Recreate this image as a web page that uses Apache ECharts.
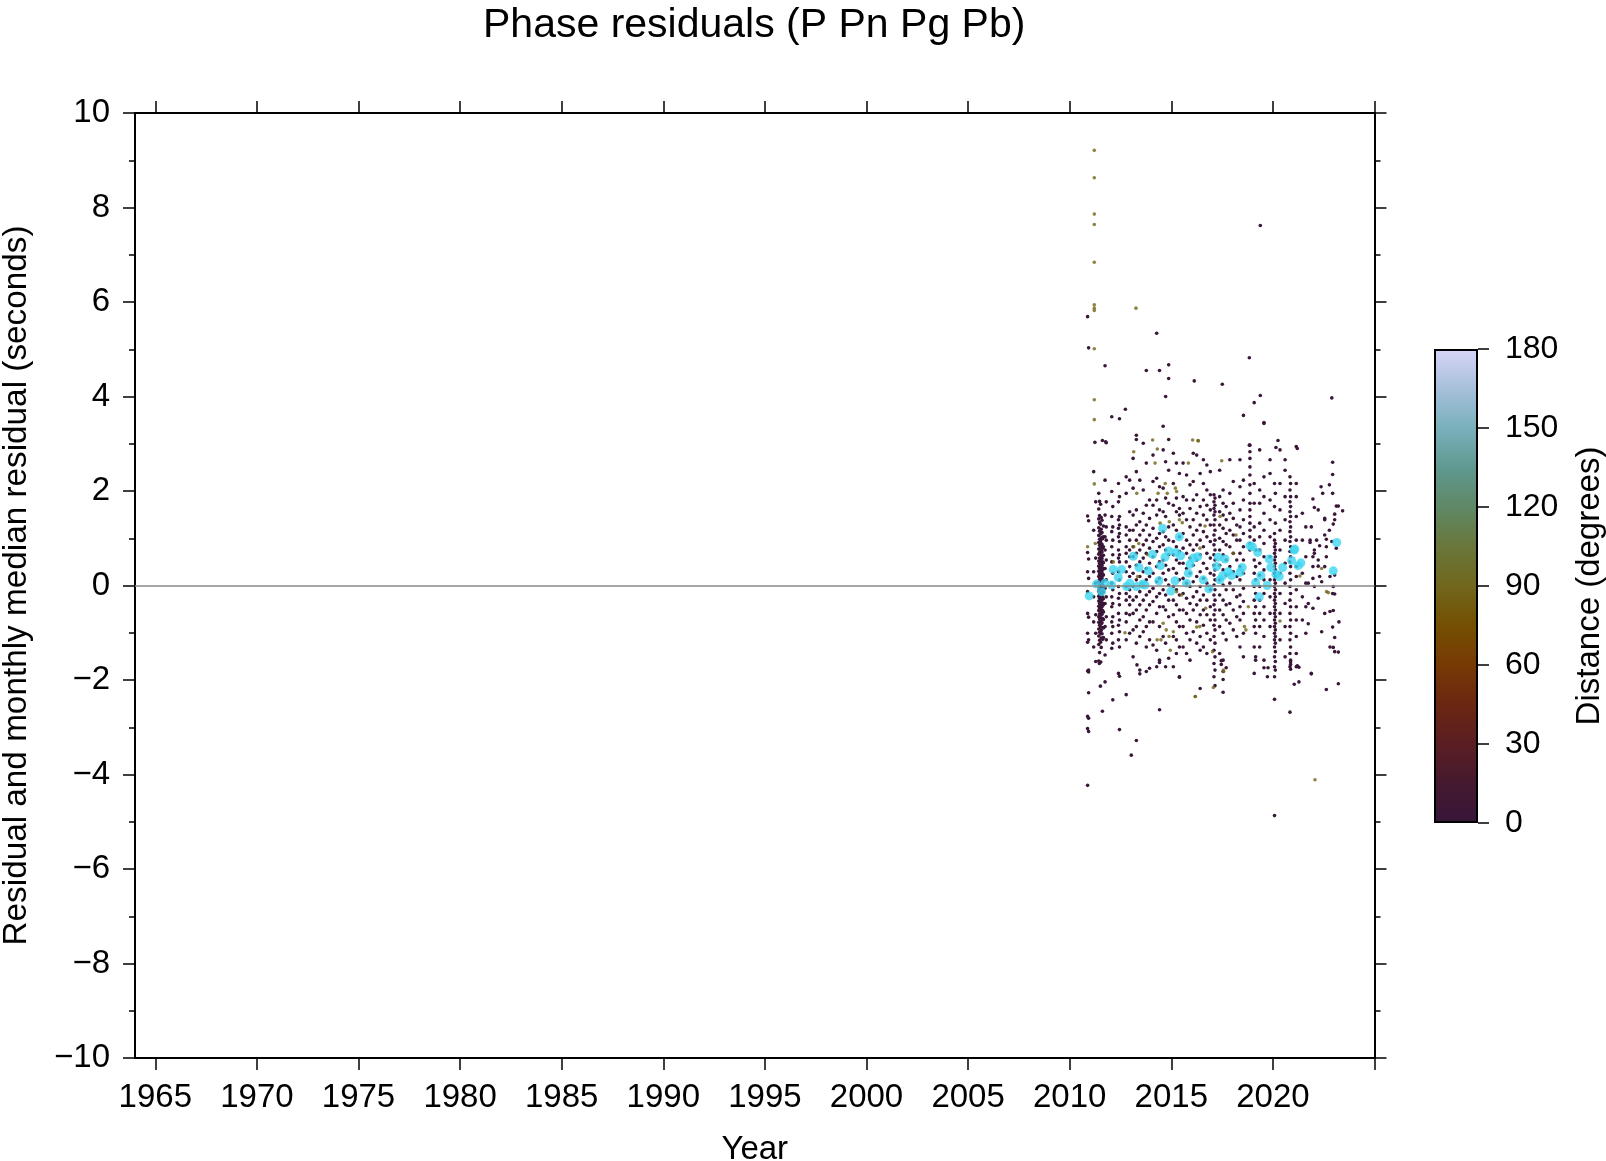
<!DOCTYPE html>
<html>
<head>
<meta charset="utf-8">
<script src="https://cdn.jsdelivr.net/npm/echarts@6/dist/echarts.min.js"></script>
<style>
html,body{margin:0;padding:0;background:#fff;}
#chart{width:1606px;height:1161px;}
</style>
</head>
<body>
<div id="chart"></div>
<script>
// ---------- axis ticks / labels ----------
const xTickYears  = [1965,1970,1975,1980,1985,1990,1995,2000,2005,2010,2015,2020,2025];
const xLabelYears = [1965,1970,1975,1980,1985,1990,1995,2000,2005,2010,2015,2020];
const yMin = -10, yMax = 10, yStep = 2;
const distMin = 0, distMax = 180, distStep = 30;
const zeroLevel = 0;

// colour table for distance (degrees), evenly spaced from 0 to 180
const distanceColors = ['#37163a','#45192f','#5a1e22','#6b2612','#773a04','#744f02',
                        '#71671c','#69773a','#5f8866','#5f9990','#7ab0bc','#a6c0da','#d8d4f8'];

const nearDistance = 3;   // most picks: local stations
const farDistance  = 88;  // olive-coloured picks

// ---------- residuals of near stations: [year, [residuals...]] ----------
const nearCols2010 = [
  [2010.88, [5.69, 1.47, 0.70, 0.29, -0.13, -0.59, -1.01, -1.20, -1.81, -2.77, -3.03, -4.23]],
  [2010.93, [5.03, 1.37, 0.56, 0.15, -0.67, -1.15, -1.79, -1.83, -2.27, -2.81, -3.09]],
  [2011.18, [2.41, 1.17, 0.29, -0.24, -0.77, -1.30]],
  [2011.28, [1.77, 0.58, 0.05, -0.62, -1.01, -1.61]],
  [2011.24, [3.03]],
  [2011.46, [-1.65]], [2011.51, [-2.13]], [2011.53, [-1.62]], [2011.61, [3.07, -2.66]],
  [2011.43, [1.95, 1.62, 1.41, 1.22, 1.06, 0.91, 0.77, 0.66, 0.52, 0.41, 0.30, 0.19, 0.08, -0.03, -0.12, -0.23, -0.33, -0.44, -0.53, -0.66, -0.78, -0.92, -1.07, -1.25, -1.60]],
  [2011.47, [1.78, 1.48, 1.33, 1.15, 0.98, 0.85, 0.70, 0.58, 0.47, 0.36, 0.24, 0.13, 0.02, -0.08, -0.18, -0.27, -0.38, -0.49, -0.60, -0.71, -0.84, -0.99, -1.16, -1.42]],
  [2011.52, [1.72, 1.30, 1.09, 0.94, 0.81, 0.68, 0.55, 0.44, 0.33, 0.21, 0.11, 0.00, -0.10, -0.21, -0.31, -0.42, -0.52, -0.63, -0.75, -0.88, -1.02, -1.20]],
  [2011.55, [1.44, 1.19, 1.01, 0.88, 0.74, 0.62, 0.49, 0.38, 0.27, 0.16, 0.05, -0.05, -0.15, -0.26, -0.36, -0.47, -0.57, -0.69, -0.81, -0.95, -1.11, -1.31]],
  [2011.59, [1.38, 1.12, 0.87, 0.71, 0.57, 0.43, 0.31, 0.18, 0.07, -0.04, -0.17, -0.30, -0.45, -0.61, -0.79, -1.02]],
  [2011.62, [0.99, 0.79, 0.63, 0.50, 0.37, 0.25, 0.12, 0.01, -0.11, -0.24, -0.37, -0.53, -0.70, -0.89, -1.14]],
  [2011.66, [1.26, 1.03, 0.82, 0.64, 0.48, 0.35, 0.22, 0.10, -0.02, -0.14, -0.28, -0.41, -0.56, -0.72, -0.90, -1.10]],
  [2011.74, [4.65, 2.23, 1.49, 1.03, 0.75, 0.36, -0.06, -0.38, -0.87, -1.47, -2.04]],
  [2011.80, [3.02, 1.77, 1.24, 0.96, 0.54, 0.12, -0.24, -0.66, -1.15]],
  [2011.77, [3.04]],
  [2012.07, [3.57, 1.99, 1.46, 1.14, 0.82, 0.50, 0.05, -0.24, -0.45, -0.77, -1.01, -1.33]],
  [2012.12, [1.67, 1.24, 0.96, 0.65, 0.26, -0.09, -0.38, -0.66, -0.87, -1.22, -2.42]],
  [2012.40, [2.16, 1.77, 1.39, 1.21, 1.03, 0.75, 0.58, 0.29, -0.02, -0.27, -0.59, -0.84, -1.15, -1.86]],
  [2012.45, [3.53, 1.88, 1.46, 1.28, 1.10, 0.93, 0.65, 0.50, 0.12, -0.17, -0.41, -0.73, -0.98, -1.30, -1.92, -3.05]],
  [2012.74, [3.73]],
  [2012.78, [2.30, 1.95, 1.24, 1.07, 0.82, 0.68, 0.50, 0.29, -0.02, -0.17, -0.31, -0.59, -0.77, -1.15, -2.31]],
  [2012.95, [2.23, 1.56, 1.17, 0.96, 0.75, 0.61, 0.40, 0.19, -0.09, -0.24, -0.41, -0.62, -1.01]],
  [2013.03, [-3.59]]
];

const nearCols2013 = [
  [2013.12, [2.69, 2.06, 1.49, 1.17, 0.82, 0.61, 0.26, -0.02, -0.31, -0.59, -0.94, -1.51]],
  [2013.28, [3.18, 3.09, 2.41, 1.60, 1.28, 0.96, 0.68, 0.43, 0.12, -0.24, -0.52, -0.87, -1.22, -3.28]],
  [2013.45, [2.23, 1.35, 1.07, 0.75, 0.50, 0.19, -0.13, -0.41, -0.73, -1.08, -1.79, -1.87]],
  [2013.31, [-1.68]],
  [2013.62, [3.01, 2.02, 1.53, 1.17, 0.86, 0.58, 0.29, -0.02, -0.31, -0.66, -0.98]],
  [2013.77, [4.55, 2.59, 1.70, 1.28, 0.96, 0.68, 0.36, 0.12, -0.20, -0.52, -0.87, -1.30, -1.82]],
  [2013.93, [1.81, 1.42, 1.07, 0.79, 0.47, 0.19, -0.13, -0.41, -0.77, -1.15, -1.75]],
  [2014.10, [2.76, 2.20, 1.70, 1.21, 0.93, 0.61, 0.26, -0.06, -0.34, -0.77, -1.26]],
  [2014.28, [5.34, 2.27, 1.81, 1.49, 1.00, 0.72, 0.40, 0.08, -0.24, -0.59, -1.37, -1.72]],
  [2014.42, [4.55, 2.09, 1.60, 1.10, 0.82, 0.50, 0.15, -0.17, -0.45, -0.87, -1.58, -1.63, -2.63]],
  [2014.60, [3.37, 2.87, 2.06, 1.56, 1.14, 0.86, 0.54, 0.26, -0.09, -0.45, -1.08]],
  [2014.72, [4.00, 2.62, 1.85, 1.46, 1.03, 0.75, 0.43, 0.12, -0.20, -0.52, -1.22, -1.72]],
  [2014.87, [4.67, 4.38, 3.09, 2.44, 1.74, 1.24, 0.96, 0.65, 0.33, 0.01, -0.31, -0.66, -1.54]],
  [2015.10, [2.80, 2.16, 1.70, 1.28, 0.93, 0.65, 0.36, -0.02, -0.31, -0.62, -1.08, -1.72]],
  [2015.25, [2.59, 1.85, 1.56, 1.17, 0.82, 0.54, 0.26, -0.09, -0.41, -0.77, -1.15, -1.44]],
  [2015.40, [2.37, 1.63, 1.49, 1.03, 0.72, 0.47, 0.12, -0.20, -0.52, -0.87, -1.30, -1.93, -1.94]],
  [2015.58, [2.59, 1.88, 1.53, 1.10, 0.79, 0.47, 0.15, -0.17, -0.52, -0.87, -1.30]],
  [2015.75, [2.34, 1.81, 1.39, 0.96, 0.68, 0.36, 0.05, -0.27, -0.59, -1.01, -1.44]],
  [2015.92, [2.13, 1.63, 1.24, 0.86, 0.58, 0.26, -0.02, -0.38, -0.73, -1.15, -1.58]]
];

const nearCols2016 = [
  [2016.08, [2.80, 2.20, 1.81, 1.39, 1.07, 0.75, 0.43, 0.08, -0.24, -0.52, -0.98]],
  [2016.13, [4.33]],
  [2016.25, [2.76, 1.92, 1.53, 1.17, 0.86, 0.54, 0.19, -0.13, -0.41, -0.77, -1.22]],
  [2016.42, [2.37, 1.67, 1.28, 0.96, 0.65, 0.29, -0.02, -0.31, -0.62, -1.08, -1.37, -2.18]],
  [2016.58, [2.66, 2.16, 1.81, 1.49, 1.14, 0.82, 0.47, 0.15, -0.20, -0.52, -0.84, -1.30]],
  [2016.75, [2.55, 2.02, 1.70, 1.39, 1.03, 0.68, 0.36, 0.05, -0.31, -0.62, -1.01, -1.44]],
  [2016.92, [2.41, 1.92, 1.60, 1.28, 0.93, 0.58, 0.26, -0.09, -0.45, -0.73, -1.15]],
  [2017.10, [1.92, 1.77, 1.63, 1.49, 1.28, 1.07, 0.86, 0.65, 0.43, 0.22, 0.01, -0.20, -0.41, -0.62, -0.84, -1.08, -1.37, -1.65, -1.93]],
  [2017.15, [1.85, 1.70, 1.56, 1.39, 1.17, 0.96, 0.75, 0.54, 0.33, 0.12, -0.09, -0.31, -0.52, -0.73, -0.94, -1.22, -1.51, -1.79, -2.12]],
  [2017.46, [-1.59, -1.67]], [2017.51, [4.26]],
  [2017.38, [2.44, 1.88, 1.56, 1.28, 1.00, 0.75, 0.43, 0.12, -0.20, -0.52, -0.87, -1.44]],
  [2017.55, [2.02, 1.74, 1.49, 1.21, 0.93, 0.65, 0.33, 0.01, -0.31, -0.62, -1.01, -1.58, -1.82, -1.99, -2.26]],
  [2017.70, [1.67, 1.39, 1.10, 0.86, 0.54, 0.22, -0.09, -0.41, -0.73, -1.15, -1.74]],
  [2017.88, [2.66, 1.95, 1.53, 1.17, 0.82, 0.40, 0.05, -0.38, -0.80]],
  [2018.05, [2.20, 1.74, 1.42, 1.07, 0.68, 0.29, -0.09, -0.52, -0.94]],
  [2018.22, [1.28, 0.96, 0.54, 0.19, -0.24, -0.66, -1.08]],
  [2018.38, [2.66, 2.09, 1.60, 1.24, 0.96, 0.68, 0.40, 0.12, -0.20, -0.45, -0.73, -1.30]],
  [2018.55, [3.60, 2.23, 1.81, 1.39, 1.10, 0.82, 0.54, 0.26, -0.06, -0.34, -0.59, -1.01, -1.51]],
  [2018.84, [4.82, 2.97]]
];

const nearCols2019 = [
  [2018.87, [2.97, 2.83, 2.69, 2.51, 2.34, 2.13, 1.95, 1.74, 1.60, 1.46, 1.32, 1.17, 1.03, 0.89, 0.75]],
  [2019.08, [3.87, 2.16, 1.74, 1.24, 0.96, 0.54, 0.26, -0.02, -0.31, -0.59, -0.87, -1.30, -1.86]],
  [2019.15, [0.75, 0.40, 0.12, -0.17, -0.45, -0.73, -1.01, -1.51, -1.58]],
  [2019.38, [7.62, 4.02]],
  [2019.35, [2.87, 2.02, 1.74, 1.32, 1.03, 0.75, 0.47, 0.22, -0.02, -0.31, -0.59, -0.87, -1.30]],
  [2019.56, [3.45, 3.43, 2.30, 1.88, 1.53, 1.17, 0.89, 0.61, 0.33, 0.12, -0.17, -0.45, -0.73, -1.08, -1.58, -1.74]],
  [2019.73, [-1.93]], [2019.76, [-1.74]],
  [2019.86, [2.66, 2.37, 1.81, 1.39, 1.03, 0.61, 0.12, -0.24, -0.59, -0.87]],
  [2020.08, [2.16, 1.67, 1.10, 0.96, 0.82, 0.68, 0.54, 0.40, 0.26, 0.12, -0.02, -0.17, -0.31, -0.45, -0.59, -0.73, -0.87, -1.01, -1.15, -1.30, -1.51, -1.72, -1.93, -2.41, -4.87]],
  [2020.12, [1.95, 1.32, 0.89, 0.75, 0.61, 0.47, 0.33, 0.19, 0.05, -0.09, -0.24, -0.38, -0.52, -0.66, -0.80, -0.94, -1.08, -1.22, -1.40, -1.61, -1.79]],
  [2020.15, [2.92]], [2020.25, [3.07]],
  [2020.35, [2.87, 2.16, 1.60, 1.17, 0.75, 0.26, -0.17, -0.59, -1.15]],
  [2020.60, [2.66, 2.44, 1.88, 1.39, 0.96, 0.47, 0.05, -0.38, -0.87, -1.51]],
  [2020.84, [2.30, 2.02, 1.77, 1.56, 1.35, 1.14, 0.93, 0.72, 0.50, 0.26, -0.02, -0.31, -0.59, -0.87, -1.15, -1.44, -1.72, -2.68]],
  [2020.87, [2.16, 1.88, 1.67, 1.46, 1.24, 1.03, 0.82, 0.61, 0.40, 0.12, -0.17, -0.45, -0.73, -1.01, -1.30, -1.58, -1.62, -1.67, -1.77]],
  [2021.15, [2.94, 2.16, 1.88, 1.46, 0.96, 0.40, 0.19, -0.09, -0.45, -0.73, -1.08, -1.44, -1.72]],
  [2021.20, [2.90, -1.70]], [2021.05, [-2.09]], [2021.28, [-2.04, -1.73]]
];

const nearCols2021 = [
  [2021.45, [1.53, 0.96, 0.26, -0.24, -0.73]],
  [2021.62, [1.24, 0.61, 0.05, -0.45, -1.01]],
  [2021.74, [0.05, -0.38, -0.81]],
  [2021.83, [0.96, 0.91]],
  [2021.89, [1.24, -1.87, -1.86]],
  [2021.97, [1.83, 0.61, 0.40, 0.15, -0.48]],
  [2022.04, [1.65, 0.75, 0.68, -0.02]],
  [2022.15, [0.96]],
  [2022.23, [1.60, 0.54, 0.41, -0.27]],
  [2022.30, [0.84, 0.19]],
  [2022.37, [2.09]],
  [2022.40, [0.08, -0.98]],
  [2022.45, [1.95]],
  [2022.55, [1.42, 1.39, 1.07, 0.40, -0.59]],
  [2022.63, [0.98, 0.82, 0.61, -2.20]],
  [2022.78, [2.13, 1.17]],
  [2022.81, [0.19, -0.55, -1.30]],
  [2022.90, [0.93, 3.97]],
  [2022.94, [2.61, 2.35, 1.95, -0.17, -0.88]],
  [2022.97, [1.30, -0.02, -0.53, -1.31]],
  [2023.04, [1.51, 1.39, 0.22, -0.18, -1.10, -1.40]],
  [2023.12, [1.68, 0.79]],
  [2023.22, [1.68, -1.41, -2.08]],
  [2023.25, [-0.77]],
  [2023.43, [1.58]]
];

// ---------- residuals of far stations (olive): [year, residual] ----------
const farDots = [
  [2010.88, 0.82], [2011.21, 9.21], [2011.21, 8.63], [2011.21, 7.86], [2011.21, 7.64],
  [2011.21, 6.84], [2011.21, 5.94], [2011.21, 5.87], [2011.21, 5.82], [2011.21, 5.01],
  [2011.21, 3.93], [2011.21, 3.51], [2011.21, 2.15], [2011.26, 0.89], [2013.26, 5.87],
  [2016.31, 3.07], [2014.31, 2.89], [2013.15, 2.83], [2013.30, 1.95], [2013.40, 0.89],
  [2014.08, 3.08], [2014.20, 2.59], [2014.35, 1.95], [2014.45, 1.32], [2014.30, -1.15],
  [2014.70, 2.16], [2014.80, 1.95], [2014.90, 1.35], [2014.60, -0.80], [2014.75, -0.94],
  [2014.95, -1.37], [2015.20, 2.06], [2015.40, 1.39], [2016.05, 3.08], [2016.40, -0.87],
  [2016.18, -2.35], [2017.07, -2.16], [2017.58, -1.82], [2018.60, -0.87], [2022.07, -4.11],
  [2022.40, 0.36], [2022.64, -0.13], [2012.15, 0.50], [2012.72, -1.00], [2014.89, -1.08],
  [2014.49, -1.15], [2015.10, -0.98], [2013.34, 0.19], [2013.54, 0.05], [2013.15, 0.82],
  [2013.84, 0.65], [2016.33, 3.06], [2015.84, 2.59], [2017.48, 2.64], [2015.26, 1.99],
  [2015.54, 1.33], [2016.66, 1.26], [2017.40, 1.46], [2016.41, 0.79], [2018.18, 1.07],
  [2018.05, 0.68], [2015.26, -0.13], [2015.50, -0.20], [2018.79, -0.45], [2016.25, -0.88],
  [2016.69, -0.48], [2017.03, -1.40], [2018.67, -0.94], [2017.56, -1.79], [2021.33, 0.20],
  [2022.73, -0.15], [2020.35, -0.75], [2016.18, -2.35]
];

// ---------- monthly median residuals: [year, median] ----------
const monthlyMedians = [
  [2010.96, -0.22], [2011.32, 0.03], [2011.57, -0.13], [2011.73, 0.05], [2012.06, 0.01],
  [2012.14, 0.34], [2012.39, 0.17], [2012.55, 0.34], [2012.80, -0.02], [2012.96, 0.05],
  [2013.13, 0.62], [2013.29, -0.02], [2013.41, 0.38], [2013.59, 0.03], [2013.70, 0.01],
  [2013.87, 0.31], [2014.08, 0.66], [2014.39, 0.10], [2014.47, 0.42], [2014.57, 1.21],
  [2014.69, 0.60], [2014.88, 0.73], [2014.98, -0.12], [2015.18, 0.10], [2015.23, 0.70],
  [2015.39, 1.03], [2015.46, 0.63], [2015.75, 0.05], [2015.84, 0.26], [2015.92, 0.45],
  [2016.08, 0.58], [2016.30, 0.61], [2016.57, 0.12], [2016.85, -0.07], [2017.23, 0.40],
  [2017.31, 0.60], [2017.39, 0.12], [2017.53, 0.21], [2017.64, 0.56], [2017.80, 0.29],
  [2017.97, 0.21], [2018.38, 0.28], [2018.49, 0.38], [2018.87, 0.84], [2018.99, 0.82],
  [2019.15, 0.06], [2019.25, 0.70], [2019.33, -0.24], [2019.41, 0.21], [2019.72, 0.00],
  [2019.82, 0.56], [2019.90, 0.38], [2020.15, 0.24], [2020.31, 0.19], [2020.48, 0.38],
  [2020.92, 0.53], [2021.04, 0.75], [2021.08, 0.77], [2021.25, 0.42], [2021.38, 0.48],
  [2022.97, 0.31], [2023.14, 0.91]
];

// ---------- build series data ----------
function expandCols(cols) {
  const out = [];
  cols.forEach(([yr, vals]) => vals.forEach(v => out.push([yr, v, nearDistance])));
  return out;
}
const nearData = [].concat(
  expandCols(nearCols2010), expandCols(nearCols2013), expandCols(nearCols2016),
  expandCols(nearCols2019), expandCols(nearCols2021));
const farData = farDots.map(([yr, v]) => [yr, v, farDistance]);

const FONT = "'Liberation Sans', Arial, Helvetica, sans-serif";
const BLACK = '#000';

const chart = echarts.init(document.getElementById('chart'), null, {renderer: 'canvas'});

const gradientStops = distanceColors.map((c, i) => ({offset: i / (distanceColors.length - 1), color: c}));

function frameAxisX(pos, withLabels) {
  return {
    gridIndex: 0, type: 'value', position: pos, min: 1964, max: 2025,
    axisLine: {show: true, onZero: false, lineStyle: {color: BLACK, width: 2}},
    axisTick: {show: true, inside: false, length: 12, customValues: xTickYears, lineStyle: {color: BLACK, width: 1.5}},
    axisLabel: withLabels ? {show: true, customValues: xLabelYears, fontSize: 33, color: BLACK, margin: 23,
                             fontFamily: FONT, formatter: v => String(v)}
                          : {show: false},
    splitLine: {show: false}
  };
}
function frameAxisY(pos, withLabels) {
  return {
    gridIndex: 0, type: 'value', position: pos, min: yMin, max: yMax, interval: yStep,
    axisLine: {show: true, onZero: false, lineStyle: {color: BLACK, width: 2}},
    axisTick: {show: true, inside: false, length: 12, lineStyle: {color: BLACK, width: 1.5}},
    minorTick: {show: true, splitNumber: 2, length: 6, lineStyle: {color: BLACK, width: 1.5}},
    axisLabel: withLabels ? {show: true, fontSize: 33, color: BLACK, margin: 25, fontFamily: FONT,
                             formatter: v => String(v).replace('-', '\u2212')}
                          : {show: false},
    splitLine: {show: false}, minorSplitLine: {show: false}
  };
}

const xBottom = frameAxisX('bottom', true);
xBottom.name = 'Year';
xBottom.nameLocation = 'middle';
xBottom.nameGap = 75;
xBottom.nameTextStyle = {fontSize: 33, color: BLACK, fontFamily: FONT};

const yLeft = frameAxisY('left', true);
yLeft.name = 'Residual and monthly median residual (seconds)';
yLeft.nameLocation = 'middle';
yLeft.nameRotate = 90;
yLeft.nameGap = 102;
yLeft.nameTextStyle = {fontSize: 33.3, color: BLACK, fontFamily: FONT};

const option = {
  animation: false,
  backgroundColor: '#ffffff',
  textStyle: {fontFamily: FONT},
  title: {
    text: 'Phase residuals (P Pn Pg Pb)',
    left: 478, top: 0,
    textStyle: {fontFamily: FONT, fontSize: 41, fontWeight: 'normal', color: BLACK}
  },
  grid: [
    {left: 135, top: 113, width: 1239.5, height: 945, show: false, containLabel: false, outerBoundsMode: 'none'},
    {left: 1434, top: 349, width: 44, height: 474, show: false, containLabel: false, outerBoundsMode: 'none'}
  ],
  xAxis: [
    xBottom,
    frameAxisX('top', false),
    {gridIndex: 1, type: 'category', data: ['distance'], show: false}
  ],
  yAxis: [
    yLeft,
    frameAxisY('right', false),
    {
      gridIndex: 1, type: 'value', position: 'right', min: distMin, max: distMax, interval: distStep,
      axisLine: {show: false},
      axisTick: {show: true, inside: false, length: 11, lineStyle: {color: BLACK, width: 1.5}},
      axisLabel: {show: true, fontSize: 32, color: BLACK, margin: 27, fontFamily: FONT},
      splitLine: {show: false},
      name: 'Distance (degrees)', nameLocation: 'middle', nameRotate: 90, nameGap: 95,
      nameTextStyle: {fontSize: 33, color: BLACK, fontFamily: FONT}
    }
  ],
  visualMap: {
    show: false, type: 'continuous', min: distMin, max: distMax, dimension: 2,
    seriesIndex: [0, 1], inRange: {color: distanceColors}
  },
  series: [
    {
      name: 'near', type: 'scatter', xAxisIndex: 0, yAxisIndex: 0,
      symbol: 'circle', symbolSize: 3.6, data: nearData, z: 2,
      itemStyle: {opacity: 1},
      markLine: {
        silent: true, symbol: ['none', 'none'], label: {show: false},
        lineStyle: {color: '#888888', width: 1.5, type: 'solid'},
        data: [{yAxis: zeroLevel}]
      }
    },
    {
      name: 'far', type: 'scatter', xAxisIndex: 0, yAxisIndex: 0,
      symbol: 'circle', symbolSize: 3.6, data: farData, z: 3
    },
    {
      name: 'median', type: 'scatter', xAxisIndex: 0, yAxisIndex: 0,
      symbol: 'circle', symbolSize: 9, data: monthlyMedians, z: 4,
      itemStyle: {color: '#3fd6f0'}
    },
    {
      name: 'colorbar', type: 'bar', xAxisIndex: 2, yAxisIndex: 2,
      barWidth: '100%', data: [distMax], z: 2,
      itemStyle: {
        color: new echarts.graphic.LinearGradient(0, 1, 0, 0, gradientStops),
        borderColor: BLACK, borderWidth: 2
      }
    }
  ]
};
chart.setOption(option);
</script>
</body>
</html>
